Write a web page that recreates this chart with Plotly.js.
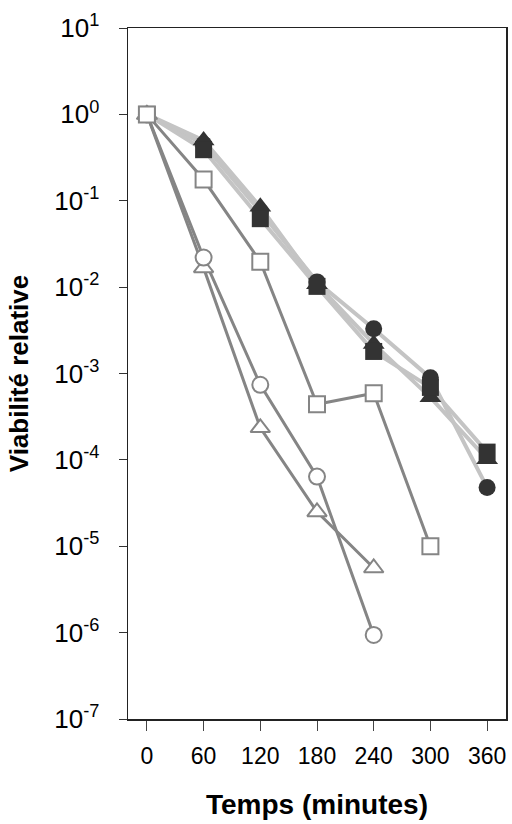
<!DOCTYPE html>
<html>
<head>
<meta charset="utf-8">
<script src="https://cdn.plot.ly/plotly-3.0.1.min.js"></script>
<style>html,body{margin:0;padding:0;background:#fff;}#chart{width:512px;height:824px;}</style>
</head>
<body>
<div id="chart"></div>
<script>
// Time points (minutes)
const times = [0, 60, 120, 180, 240, 300, 360];

// Filled (dark) series
const filledCircle   = [1, 0.45, 0.075, 0.0115, 0.0033, 0.00089, 0.000048];
const filledSquare   = [1, 0.39, 0.062, 0.0102, 0.0018, 0.00069, 0.000123];
const filledTriangle = [1, 0.50, 0.085, 0.0108, 0.0022, 0.00053, 0.000102];

// Open (grey) series
const openSquareT   = [0, 60, 120, 180, 240, 300];
const openSquare    = [1, 0.176, 0.0197, 0.00044, 0.00059, 0.00001];
const openCircleT   = [0, 60, 120, 180, 240];
const openCircle    = [1, 0.022, 0.00074, 0.000064, 0.00000094];
const openTriangleT = [0, 60, 120, 180, 240];
const openTriangle  = [1, 0.0167, 0.000235, 0.000025, 0.0000056];

// Axis ticks
const yTickVals = [1e1, 1e0, 1e-1, 1e-2, 1e-3, 1e-4, 1e-5, 1e-6, 1e-7];
const yTickText = ['10<sup>1</sup>','10<sup>0</sup>','10<sup>-1</sup>','10<sup>-2</sup>','10<sup>-3</sup>','10<sup>-4</sup>','10<sup>-5</sup>','10<sup>-6</sup>','10<sup>-7</sup>'];
const xTickVals = [0, 60, 120, 180, 240, 300, 360];

const darkColor = '#333333';
const lightLine = '#c4c4c4';
const greyLine = '#858585';

function lineTrace(x, y, color, width) {
  return {x: x, y: y, mode: 'lines', line: {color: color, width: width}, hoverinfo: 'skip', showlegend: false};
}
function markTrace(x, y, symbol, filled, size) {
  return {x: x, y: y, mode: 'markers', showlegend: false,
    marker: filled ? {symbol: symbol, size: size, color: darkColor, line: {width: 0}}
                   : {symbol: symbol, size: size, color: '#ffffff', line: {color: greyLine, width: 2}}};
}

const traces = [
  lineTrace(times, filledCircle, lightLine, 4),
  lineTrace(times, filledSquare, lightLine, 4),
  lineTrace(times, filledTriangle, lightLine, 4),
  markTrace(times, filledTriangle, 'triangle-up', true, 19),
  markTrace(times, filledCircle, 'circle', true, 17),
  markTrace(times, filledSquare, 'square', true, 17),
  lineTrace(openSquareT, openSquare, greyLine, 3),
  lineTrace(openCircleT, openCircle, greyLine, 3),
  lineTrace(openTriangleT, openTriangle, greyLine, 3),
  markTrace(openTriangleT, openTriangle, 'triangle-up', false, 17),
  markTrace(openCircleT, openCircle, 'circle', false, 16),
  markTrace(openSquareT, openSquare, 'square', false, 16)
];

const layout = {
  width: 512, height: 824,
  margin: {l: 128, r: 6, t: 28, b: 105},
  paper_bgcolor: '#ffffff', plot_bgcolor: '#ffffff',
  font: {family: 'Liberation Sans, Arial, sans-serif', color: '#000000'},
  xaxis: {
    range: [-20, 380], tickvals: xTickVals, ticktext: xTickVals.map(String),
    showgrid: false, zeroline: false, showline: true, mirror: true,
    linecolor: '#222222', linewidth: 1.5,
    ticks: 'outside', ticklen: 10, tickwidth: 1, tickcolor: '#444444',
    tickfont: {size: 23, color: '#000000'}, ticklabelstandoff: 6,
    title: {text: '<b>Temps (minutes)</b>', font: {size: 28, color: '#000000'}, standoff: 26}
  },
  yaxis: {
    type: 'log', range: [-7, 1], tickvals: yTickVals, ticktext: yTickText,
    showgrid: false, zeroline: false, showline: true, mirror: true,
    linecolor: '#222222', linewidth: 1.5,
    ticks: 'outside', ticklen: 8, tickwidth: 1, tickcolor: '#333333',
    tickfont: {size: 26, color: '#000000'}, ticklabelstandoff: 14,
    title: {text: '<b>Viabilité relative</b>', font: {size: 26, color: '#000000'}, standoff: 18}
  }
};

Plotly.newPlot('chart', traces, layout, {displayModeBar: false, staticPlot: true});
</script>
</body>
</html>
